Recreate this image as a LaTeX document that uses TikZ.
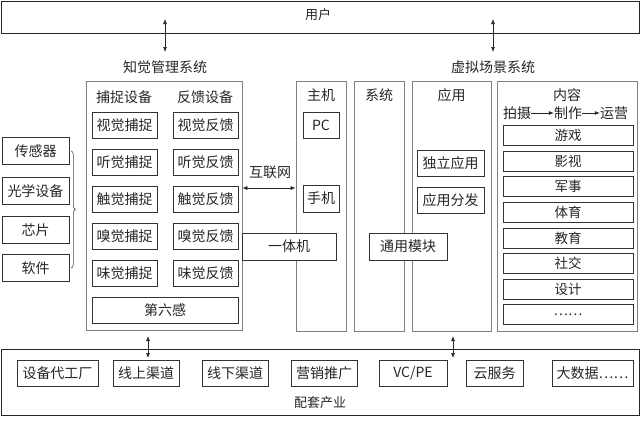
\documentclass[tikz,border=0pt]{standalone}
\usepackage{fontspec}
\newfontfamily\cjk{Noto Sans CJK SC}
\usetikzlibrary{arrows.meta,decorations.pathreplacing}
\begin{document}
\begin{tikzpicture}[x=1pt,y=-1pt,
  every node/.style={font=\cjk\fontsize{14}{16}\selectfont, text=black!85, inner sep=0pt},
  bx/.style 2 args={draw=black!80, line width=0.7pt, fill=white, minimum width=#1pt, minimum height=#2pt},
  col/.style 2 args={draw=black!50, line width=0.7pt, minimum width=#1pt, minimum height=#2pt},
  lbl/.style={},
  arr/.style={{Latex[length=5pt,width=4pt]}-{Latex[length=5pt,width=4pt]}, line width=0.7pt, black!85},
  sarr/.style={-{Latex[length=5pt,width=4pt]}, line width=0.7pt, black!85},
  cbox/.style={bx={130}{20}, font=\cjk\fontsize{13.5}{15}\selectfont}
]
\useasboundingbox (0,0) rectangle (640,423);

% top
\node[col={638}{32}, draw=black!85] (user) at (320,17) {};
\node[font=\cjk\fontsize{13}{15}\selectfont] (usert) at (318,15) {用户};
\node[lbl] (pmsl) at (165,67) {知觉管理系统};
\node[lbl] (vsl) at (493,67) {虚拟场景系统};
\coordinate (ua1) at (165,19);
\coordinate (ua2) at (493,19);
\draw[arr] (ua1) -- (pmsl.north |- 0,52);
\draw[arr] (ua2) -- (vsl.north |- 0,52);

% perception management
\node[col={156}{249}] (pm) at (164,205.5) {};
\node (cap) at (124,97) {捕捉设备};
\node (fb) at (205,97) {反馈设备};
\node[bx={65}{26}] (c1) at (124.5,125) {视觉捕捉};
\node[bx={65}{26}] (c2) at (124.5,162) {听觉捕捉};
\node[bx={65}{26}] (c3) at (124.5,199) {触觉捕捉};
\node[bx={65}{26}] (c4) at (124.5,236) {嗅觉捕捉};
\node[bx={65}{26}] (c5) at (124.5,273) {味觉捕捉};
\node[bx={65}{26}] (f1) at (205.5,125) {视觉反馈};
\node[bx={65}{26}] (f2) at (205.5,162) {听觉反馈};
\node[bx={65}{26}] (f3) at (205.5,199) {触觉反馈};
\node[bx={65}{26}] (f4) at (205.5,236) {嗅觉反馈};
\node[bx={65}{26}] (f5) at (205.5,273) {味觉反馈};
\node[bx={146}{26}] (six) at (165,310) {第六感};

% left inputs
\node[bx={67}{27}] (s1) at (35.5,151) {传感器};
\node[bx={67}{27}] (s2) at (35.5,191) {光学设备};
\node[bx={67}{27}] (s3) at (35.5,230) {芯片};
\node[bx={67}{27}] (s4) at (35.5,268) {软件};
\draw[decorate, decoration={brace, amplitude=4pt}, line width=0.6pt, black!70]
  ([xshift=2pt]s1.east) -- ([xshift=2pt]s4.east);

% host column
\node[col={50}{250}] (zj) at (321,206) {};
\node (zjl) at (321,95) {主机};
\node[bx={36}{26}] (pc) at (321,125) {PC};
\node[bx={36}{27}] (sj) at (321,198.5) {手机};

% internet
\node (inet) at (270,172) {互联网};
\coordinate (iy) at (0,188);
\draw[arr] (pm.east |- iy) -- (zj.west |- iy);

% system / app columns
\node[col={50}{250}] (xt) at (379,206) {};
\node (xtl) at (379,95) {系统};
\node[col={79}{250}] (yy) at (451.5,206) {};
\node (yyl) at (451.5,95) {应用};
\node[bx={67}{26}] (dl) at (450.5,163) {独立应用};
\node[bx={67}{26}] (ff) at (450.5,200) {应用分发};

% overlapping boxes
\node[bx={94}{27}] (ytj) at (289,246.5) {一体机};
\node[bx={78}{27}] (ty) at (408,246.5) {通用模块};

% content column
\node[col={140}{250}] (nr) at (567,206) {};
\node (nrl) at (567,95) {内容};
\node (ps) at (517,113) {拍摄};
\node (zz) at (568,113) {制作};
\node (yg) at (614,113) {运营};
\draw[sarr] (ps.east) -- (zz.west);
\draw[sarr] (zz.east) -- (yg.west);
\node[cbox] (n1) at (568,135.5) {游戏};
\node[cbox] (n2) at (568,161.1) {影视};
\node[cbox] (n3) at (568,186.7) {军事};
\node[cbox] (n4) at (568,212.3) {体育};
\node[cbox] (n5) at (568,237.9) {教育};
\node[cbox] (n6) at (568,263.5) {社交};
\node[cbox] (n7) at (568,289.1) {设计};
\node[cbox] (n8) at (568,314.7) {……};

% bottom industry
\node[col={638}{66}, draw=black!85] (pt) at (320,382) {};
\node[bx={81}{26}] (b1) at (57.5,373) {设备代工厂};
\node[bx={66}{26}] (b2) at (146,373) {线上渠道};
\node[bx={66}{26}] (b3) at (235,373) {线下渠道};
\node[bx={66}{26}] (b4) at (324,373) {营销推广};
\node[bx={68}{26}] (b5) at (413,373) {VC/PE};
\node[bx={57}{26}] (b6) at (494.5,373) {云服务};
\node[bx={81}{26}] (b7) at (592.5,373) {大数据……};
\node[font=\cjk\fontsize{13}{15}\selectfont] (ptl) at (320,403) {配套产业};
\coordinate (ba1) at (148,336);
\coordinate (ba2) at (148,358);
\coordinate (bb1) at (453,336);
\coordinate (bb2) at (453,358);
\draw[arr] (ba1) -- (ba2);
\draw[arr] (bb1) -- (bb2);
\end{tikzpicture}
\end{document}
